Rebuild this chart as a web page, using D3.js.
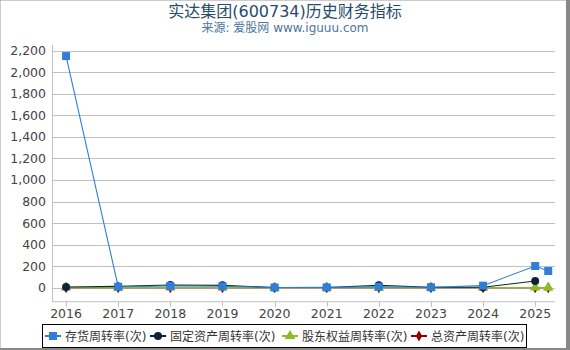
<!DOCTYPE html>
<html>
<head>
<meta charset="utf-8">
<script src="https://cdn.jsdelivr.net/npm/d3@7/dist/d3.min.js"></script>
<style>
body{margin:0;background:#fff;}
svg text{font-family:"DejaVu Sans","Noto Sans CJK SC",sans-serif;}
</style>
</head>
<body>
<div id="chart"></div>
<script>
var width=570,height=350;

// 数据
var periods=[2016,2017,2018,2019,2020,2021,2022,2023,2024,2025,2025.25];
var yearTicks=[2016,2017,2018,2019,2020,2021,2022,2023,2024,2025];
var yTicks=[0,200,400,600,800,1000,1200,1400,1600,1800,2000,2200];
var seriesNames=["存货周转率(次)","固定资产周转率(次)","股东权益周转率(次)","总资产周转率(次)"];
var inventoryTurnover=[2150,9,16,13,2,3,9,4,19,201,155];
var fixedAssetTurnover=[6,12,25,22,2,2,22,4,4,62,null];
var equityTurnover=[1.2,1.1,1.3,1.2,0.5,0.6,1.0,0.8,0.9,1.2,1.0];
var totalAssetTurnover=[0.5,0.4,0.5,0.5,0.2,0.2,0.4,0.3,0.3,0.4,0.3];

var colors=["#2f7ed8","#0d233a","#8bbc21","#910000"];
var shapes=[d3.symbolSquare,d3.symbolCircle,d3.symbolTriangle,d3.symbolDiamond];
var symSize=[64,50,48,36];
var allSeries=[inventoryTurnover,fixedAssetTurnover,equityTurnover,totalAssetTurnover];

var svg=d3.select('#chart').append('svg')
    .attr('width',width).attr('height',height);

// 外框
svg.append('rect').attr('x',0).attr('y',0).attr('width',width).attr('height',height)
    .attr('fill','none').attr('stroke','#999').attr('stroke-width',1);
svg.append('line').attr('x1',568).attr('x2',568).attr('y1',0).attr('y2',height)
    .attr('stroke','#888').attr('stroke-width',4);
svg.append('line').attr('x1',0).attr('x2',width).attr('y1',349).attr('y2',349)
    .attr('stroke','#888').attr('stroke-width',2);

// 标题
svg.append('text').attr('x',285).attr('y',17).attr('text-anchor','middle')
    .attr('font-size','16px').attr('fill','#274b6d').text('实达集团(600734)历史财务指标');
svg.append('text').attr('x',285).attr('y',32).attr('text-anchor','middle')
    .attr('font-size','12px').attr('fill','#4d759e').text('来源: 爱股网 www.iguuu.com');

var plotLeft=52,plotRight=555,plotTop=45,plotBottom=301.7;
var x=d3.scaleLinear().domain([2015.73,2025.38]).range([plotLeft,plotRight]);
var y=d3.scaleLinear().domain([-130,2253]).range([plotBottom,plotTop]);

// 网格线
var g=svg.append('g');
g.selectAll('.grid').data(yTicks).enter().append('line')
    .attr('x1',plotLeft).attr('x2',plotRight)
    .attr('y1',function(d){return Math.round(y(d))+0.5;})
    .attr('y2',function(d){return Math.round(y(d))+0.5;})
    .attr('stroke','#c0c0c0').attr('stroke-width',1);
g.selectAll('.ylab').data(yTicks).enter().append('text')
    .attr('x',46).attr('y',function(d){return y(d)+4.5;})
    .attr('text-anchor','end').attr('font-size','12.5px').attr('fill','#444')
    .text(d3.format(','));

// 坐标轴
g.append('line').attr('x1',plotLeft+0.5).attr('x2',plotLeft+0.5).attr('y1',plotTop).attr('y2',plotBottom)
    .attr('stroke','#c0c0c0');
g.append('line').attr('x1',plotLeft).attr('x2',plotRight).attr('y1',plotBottom).attr('y2',plotBottom)
    .attr('stroke','#c0c0c0');
g.selectAll('.xt').data(yearTicks).enter().append('line')
    .attr('x1',function(d){return Math.round(x(d))+0.5;})
    .attr('x2',function(d){return Math.round(x(d))+0.5;})
    .attr('y1',plotBottom).attr('y2',plotBottom+5).attr('stroke','#c0c0c0');
g.selectAll('.xlab').data(yearTicks).enter().append('text')
    .attr('x',function(d){return x(d);}).attr('y',318)
    .attr('text-anchor','middle').attr('font-size','12.5px').attr('fill','#444')
    .text(function(d){return d;});

// 折线（存货最后画，位于最上层）
var order=[3,2,1,0];
var line=d3.line().defined(function(d){return d[1]!=null;})
    .x(function(d){return x(d[0]);}).y(function(d){return y(d[1]);});
order.forEach(function(i){
    var pts=periods.map(function(p,j){return [p,allSeries[i][j]];});
    svg.append('path').datum(pts).attr('d',line)
        .attr('fill','none').attr('stroke',colors[i]).attr('stroke-width',1.1);
});
order.forEach(function(i){
    var pts=periods.map(function(p,j){return [p,allSeries[i][j]];})
        .filter(function(d){return d[1]!=null;});
    svg.selectAll('.m'+i).data(pts).enter().append('path')
        .attr('d',d3.symbol().type(shapes[i]).size(symSize[i]))
        .attr('transform',function(d){return 'translate('+x(d[0])+','+y(d[1])+')';})
        .attr('fill',colors[i]);
});

// 图例
svg.append('rect').attr('x',42.5).attr('y',324.5).attr('width',484).attr('height',23)
    .attr('fill','#fff').attr('stroke','#000').attr('stroke-width',1);
var legendX=[45,150,282,411];
seriesNames.forEach(function(name,i){
    var lg=svg.append('g').attr('transform','translate('+legendX[i]+',336)');
    lg.append('line').attr('x1',0).attr('x2',16).attr('stroke',colors[i]).attr('stroke-width',2);
    lg.append('path').attr('d',d3.symbol().type(shapes[i]).size(symSize[i]))
        .attr('transform','translate(8,0)').attr('fill',colors[i]);
    lg.append('text').attr('x',20).attr('y',5).attr('font-size','12px').attr('fill','#333').text(name);
});
</script>
</body>
</html>
